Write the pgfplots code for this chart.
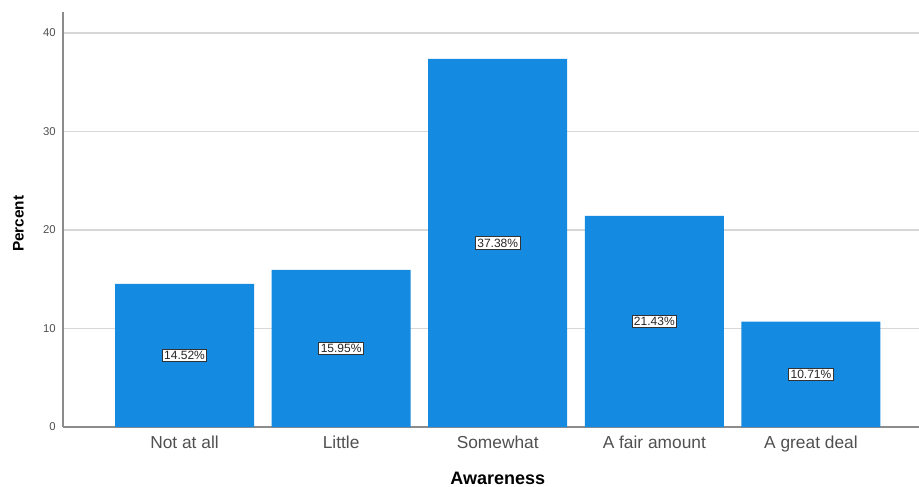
\documentclass[border=0pt]{standalone}
\usepackage{pgfplots}
\pgfplotsset{compat=1.18}
\usepackage{pgfplotstable}
\usepackage{fontspec}
\setmainfont{Liberation Sans}
\definecolor{barblue}{RGB}{20,138,224}
\definecolor{gridgray}{RGB}{215,215,218}
\definecolor{axgray}{RGB}{140,140,140}
\definecolor{labgray}{RGB}{80,80,80}
\pgfplotstableread{
x v
0 14.52
1 15.95
2 37.38
3 21.43
4 10.71
}\awareness
\begin{document}
\begin{tikzpicture}[x=0.75pt,y=0.75pt]
\path[use as bounding box] (0,0) rectangle (919,486);
\begin{axis}[
  at={(63pt*0.75,59pt*0.75)}, anchor=south west,
  scale only axis,
  width=642pt, height=311.25pt,
  xmin=-0.776, xmax=4.69,
  ymin=0, ymax=42.13,
  axis x line*=bottom, axis y line*=left,
  axis line style={axgray, line width=0.8pt},
  xtick=data,
  xticklabels={Not at all, Little, Somewhat, A fair amount, A great deal},
  ytick={0,10,20,30,40},
  ymajorgrids,
  grid style={gridgray, line width=0.9pt},
  major tick length=0pt,
  tick style={draw=none},
  /pgf/number format/assume math mode=true,
  yticklabel style={font=\fontsize{8.5}{9}\selectfont, text=labgray, xshift=-2pt},
  xticklabel style={font=\fontsize{13}{15}\selectfont, text=labgray, yshift=-3pt},
  xlabel={Awareness}, ylabel={Percent},
  xlabel style={font=\bfseries\fontsize{13.5}{15}\selectfont, at={(axis cs:2,0)}, anchor=center, yshift=-38.25pt},
  ylabel style={font=\bfseries\fontsize{11.5}{13}\selectfont, at={(axis description cs:0,0.49)}, anchor=center, yshift=33.4pt},
  clip=false,
]
\addplot[ybar, bar width=104.25pt, fill=barblue, draw=none] table[x=x, y=v] {\awareness};
\addplot[only marks, mark=none,
  nodes near coords={\pgfmathprintnumber[fixed,precision=2,fixed zerofill]{\pgfplotspointmeta}\%},
  point meta=explicit,
  nodes near coords style={anchor=center, fill=white, draw=black!80, line width=0.7pt,
    inner sep=1.5pt, font=\fontsize{9}{10}\selectfont, text=black!85},
] table[x=x, y expr=\thisrow{v}/2, meta=v] {\awareness};
\end{axis}
\end{tikzpicture}
\end{document}
